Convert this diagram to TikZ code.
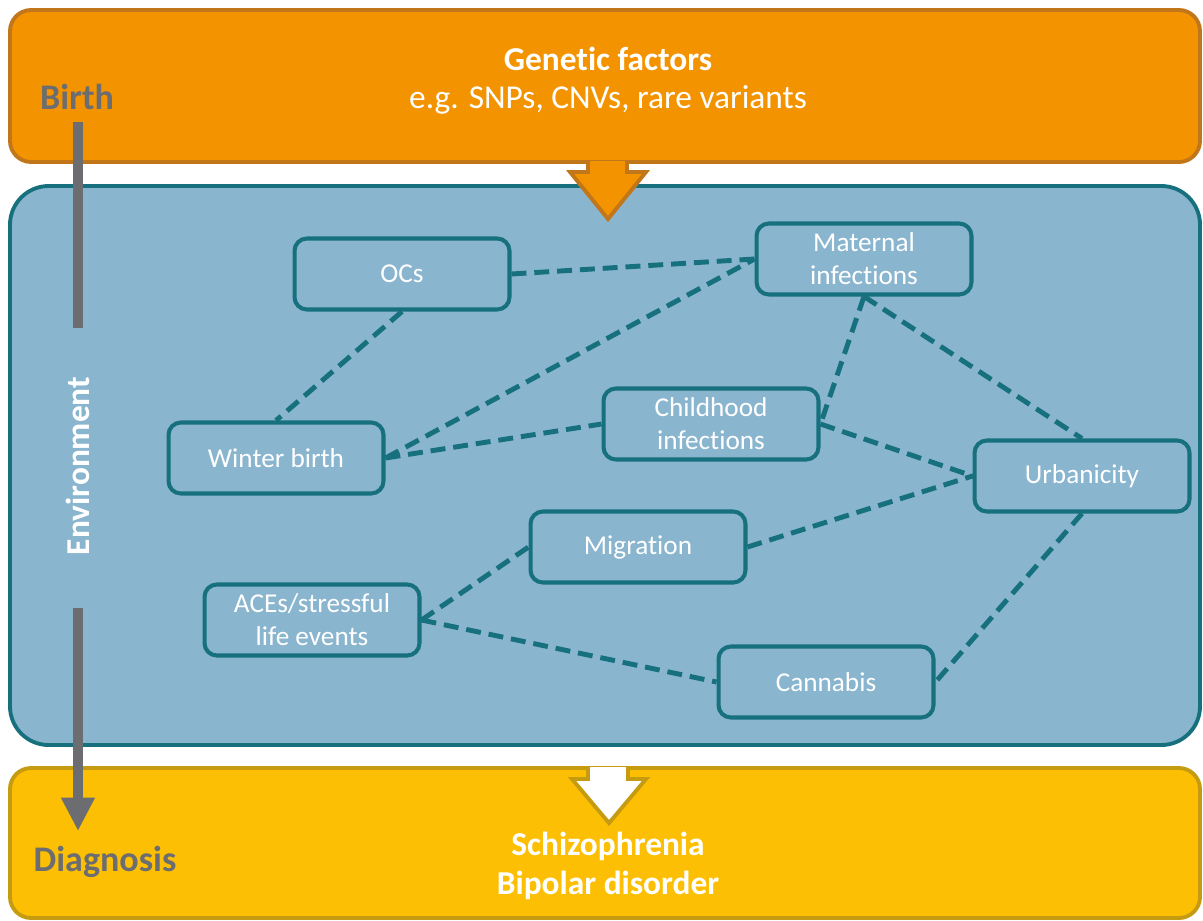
\documentclass[tikz,border=0pt]{standalone}
\usepackage{fontspec}
\setmainfont[Ligatures=NoCommon]{Carlito}
\usepackage{tikz}
\usetikzlibrary{arrows.meta,positioning,calc}

\definecolor{orfill}{HTML}{F49300}
\definecolor{ordraw}{HTML}{C2761A}
\definecolor{blfill}{HTML}{8AB5CF}
\definecolor{bldraw}{HTML}{17707E}
\definecolor{yefill}{HTML}{FCBF03}
\definecolor{yedraw}{HTML}{C59B12}
\definecolor{timegray}{HTML}{6C6D70}

\tikzset{
  factor/.style={draw=bldraw, line width=2.3pt, fill=blfill, rounded corners=7pt,
    minimum width=4.3cm, minimum height=1.42cm, align=center, text=white,
    font=\fontsize{15.5}{18.7}\selectfont},
  link/.style={draw=bldraw, line width=2.8pt, dash pattern=on 8.5pt off 4.5pt},
  title/.style={text=white, font=\bfseries\fontsize{19}{21.8}\selectfont, align=center},
  stage/.style={text=timegray, font=\bfseries\fontsize{20.5}{24}\selectfont}
}

\begin{document}
\begin{tikzpicture}[x=0.02cm, y=-0.02cm]
  \useasboundingbox (0,0) rectangle (1203,920);

  % background bands
  \draw[fill=orfill, draw=ordraw, line width=2.2pt, rounded corners=12pt] (10,10) rectangle (1200,162);
  \draw[fill=blfill, draw=bldraw, line width=2.2pt, rounded corners=22pt] (10,186) rectangle (1200,745);
  \draw[fill=yefill, draw=yedraw, line width=2.2pt, rounded corners=12pt] (10,768) rectangle (1200,918);

  % block arrows
  \draw[fill=orfill, draw=ordraw, line width=2.2pt, line join=miter]
    (588,161) -- (588,172) -- (570,172) -- (608,219) -- (646,172) -- (627,172) -- (627,161);
  \draw[fill=white, draw=yedraw, line width=2.2pt, line join=miter]
    (588,767) -- (588,779) -- (572,779) -- (609,823) -- (646,779) -- (628,779) -- (628,767);

  \node[title] (gen) at (608,81) {Genetic factors\\\normalfont e.g. SNPs, CNVs, rare variants};
  \node[title] (dis) at (608,866) {Schizophrenia\\Bipolar disorder};

  % time line
  \node[stage] (birth) at (77,97) {Birth};
  \node[stage] (diag) at (105,862) {Diagnosis};
  \node[title, rotate=90] (env) at (78,466) {Environment};
  \coordinate (t1) at (78,122);
  \coordinate (t2) at (78,328);
  \coordinate (t3) at (78,608);
  \coordinate (t4) at (78,831);
  \draw[timegray, line width=5.6pt] (t1) -- (t2);
  \draw[timegray, line width=5.6pt, -{Triangle[width=18pt,length=19pt]}] (t3) -- (t4);

  % risk factors
  \node[factor] (oc)    at (402,274) {OCs};
  \node[factor] (mat)   at (864,259) {Maternal\\infections};
  \node[factor] (win)   at (276,458) {Winter birth};
  \node[factor] (child) at (711,424) {Childhood\\infections};
  \node[factor] (urb)   at (1082,476) {Urbanicity};
  \node[factor] (mig)   at (638,547) {Migration};
  \node[factor] (ace)   at (312,620) {ACEs/stressful\\life events};
  \node[factor] (can)   at (826,682) {Cannabis};

  \path[link] (oc.east) edge (mat.west);
  \path[link] (oc.south) edge (win.north);
  \path[link] (win.east) edge (mat.west);
  \path[link] (win.east) edge (child.west);
  \path[link] (mat.south) edge (child.east);
  \path[link] (mat.south) edge (urb.north);
  \path[link] (child.east) edge (urb.west);
  \path[link] (mig.east) edge (urb.west);
  \path[link] (urb.south) edge (can.east);
  \path[link] (ace.east) edge (mig.west);
  \path[link] (ace.east) edge (can.west);
\end{tikzpicture}
\end{document}
